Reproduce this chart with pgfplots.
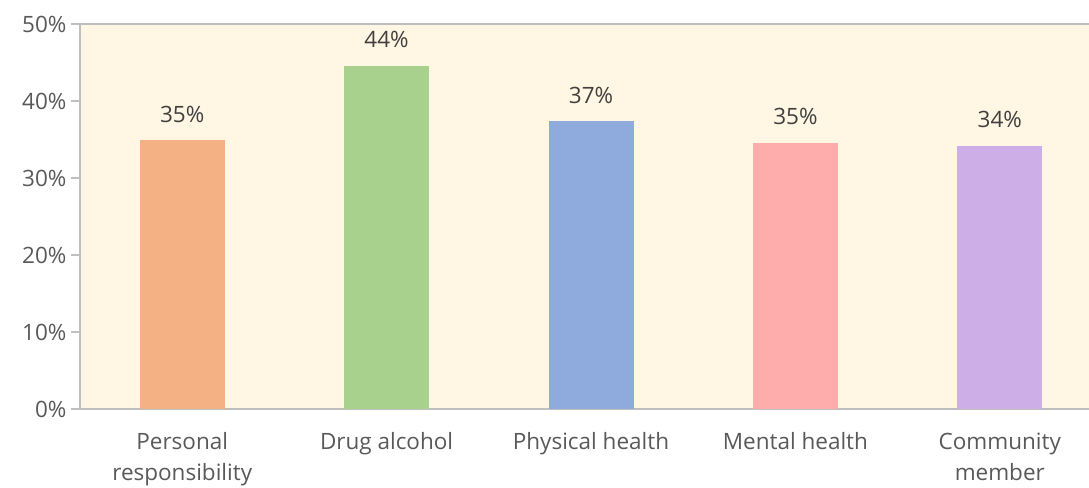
\documentclass[border=0pt]{standalone}
\usepackage{fontspec}
\setmainfont{Open Sans}
\usepackage{pgfplots}
\pgfplotsset{compat=1.18}
\definecolor{bg}{HTML}{FFF6E3}
\definecolor{c1}{HTML}{F4B183}
\definecolor{c2}{HTML}{A9D18E}
\definecolor{c3}{HTML}{8FAADC}
\definecolor{c4}{HTML}{FFACAC}
\definecolor{c5}{HTML}{CDAEE6}
\definecolor{axisgray}{HTML}{BFBFBF}
\definecolor{ticktext}{HTML}{595959}
\definecolor{labtext}{HTML}{404040}
\begin{document}
\begin{tikzpicture}
\begin{axis}[
  name=ax,
  scale only axis,
  width=1022bp, height=385bp,
  xmin=-0.5, xmax=4.5,
  ymin=0, ymax=50,
  axis background/.style={fill=bg},
  axis line style={axisgray, line width=1.2bp},
  ybar, bar width=85bp, bar shift=0pt,
  ytick={0,10,20,30,40,50},
  yticklabels={0\%,10\%,20\%,30\%,40\%,50\%},
  xtick={0,1,2,3,4},
  xticklabels={{Personal\\responsibility},{Drug alcohol},{Physical health},{Mental health},{Community\\member}},
  x tick label style={align=center, font=\fontsize{22.5bp}{31bp}\selectfont, text=ticktext, yshift=-11bp},
  y tick label style={font=\fontsize{22.5bp}{26bp}\selectfont, text=ticktext, xshift=-1bp},
  major x tick style={draw=none},
  extra x ticks={-0.5,0.5,1.5,2.5,3.5},
  extra x tick labels={},
  extra x tick style={major tick length=9bp, tick align=outside, tick style={axisgray, line width=1.2bp}},
  major tick length=9bp,
  tick align=outside,
  ytick style={axisgray, line width=1.2bp},
  xtick pos=bottom, ytick pos=left,
  point meta=explicit symbolic,
  nodes near coords,
  every node near coord/.append style={font=\fontsize{22.5bp}{26bp}\selectfont, text=labtext, yshift=14bp},
  clip=false,
]
\addplot[fill=c1, draw=none] coordinates {(0,34.9) [35\%]};
\addplot[fill=c2, draw=none] coordinates {(1,44.6) [44\%]};
\addplot[fill=c3, draw=none] coordinates {(2,37.4) [37\%]};
\addplot[fill=c4, draw=none] coordinates {(3,34.6) [35\%]};
\addplot[fill=c5, draw=none] coordinates {(4,34.2) [34\%]};
\end{axis}
\pgfresetboundingbox
\path ([shift={(-80bp,-78bp)}]ax.south west) rectangle ([shift={(-13bp,24bp)}]ax.north east);
\end{tikzpicture}
\end{document}
